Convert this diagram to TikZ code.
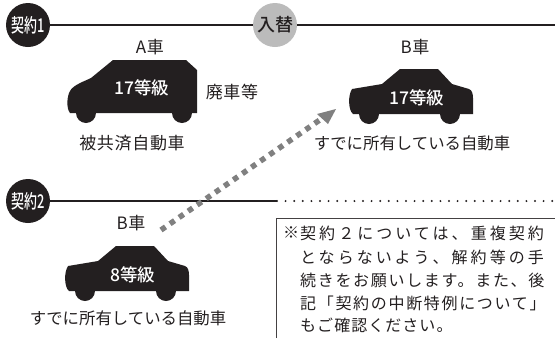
\documentclass[tikz,border=0pt]{standalone}
\usepackage{fontspec}
\setmainfont{Noto Sans CJK JP}
\newfontfamily\lblfont[LetterSpace=4]{Noto Sans CJK JP}
\newfontfamily\notefontA[LetterSpace=19]{Noto Sans CJK JP}
\newfontfamily\notefontB[LetterSpace=10.5]{Noto Sans CJK JP}
\newfontfamily\notefontC[LetterSpace=6.5]{Noto Sans CJK JP}
\newfontfamily\medfont{Noto Sans CJK JP Medium}
\usetikzlibrary{arrows.meta}
\definecolor{ink}{HTML}{231F20}
\definecolor{midgray}{HTML}{808080}
\definecolor{ringgray}{HTML}{BBBBBB}
\tikzset{
  x=1pt,y=-1pt,
  lbl/.style={inner sep=0pt,text=ink,font=\lblfont\fontsize{17}{18}\selectfont},
  kana/.style={inner sep=0pt,text=ink,font=\fontsize{16.4}{18}\selectfont},
  grade/.style={inner sep=0pt,text=white,font=\medfont\fontsize{17.5}{18}\selectfont},
  notetext/.style={inner sep=0pt,anchor=west,text=ink},
  nA/.style={notetext,font=\notefontA\fontsize{16}{18}\selectfont},
  nB/.style={notetext,font=\notefontB\fontsize{16}{18}\selectfont},
  nC/.style={notetext,font=\notefontC\fontsize{16}{18}\selectfont},
  badge/.style={circle,fill=ink,minimum size=44pt,inner sep=0pt},
  badgetext/.style={inner sep=0pt,text=white,xscale=.68,font=\medfont\fontsize{19}{20}\selectfont},
  timeline/.style={draw=ink,line width=1.9pt},
  pics/sedan/.style={code={
    \fill[ink] (5,45) .. controls (0,41) and (0,26) .. (4,20) -- (34,15) -- (52,0) -- (90,0) -- (104,15)
      -- (121,20) .. controls (124,21) and (125,25) .. (125,29) -- (125,45)
      -- (112,45) arc[start angle=0,end angle=180,radius=10] 
      -- (31,45) arc[start angle=0,end angle=180,radius=10] -- cycle;
  }}
}
\begin{document}
\begin{tikzpicture}
\useasboundingbox (0,0) rectangle (555,338);
% timelines
\node[badge] (k1) at (28,25) {};
\node[badgetext] at (k1) {契約1};
\node[circle,fill=ringgray,minimum size=44pt,inner sep=0pt] (sw) at (275,25) {};
\node[inner sep=0pt,text=ink,font=\medfont\fontsize{18}{18}\selectfont] at (sw) {入替};
\coordinate (e1) at (555,25);
\draw[timeline] (k1) -- (sw);
\draw[timeline] (sw) -- (e1);
\node[badge] (k2) at (28,201) {};
\node[badgetext] at (k2) {契約2};
\coordinate (m2) at (277,201);
\coordinate (e2) at (555,201);
\draw[timeline] (k2) -- (m2);
\draw[ink,line width=2.2pt,line cap=round,dash pattern=on 0pt off 8.6pt] (m2) -- (e2);
% car A
\fill[ink] (70,113) .. controls (66,108) and (67,96) .. (70,91) .. controls (73,85) and (85,81) .. (91,78)
  -- (113,60) -- (186,60) -- (197,70) -- (197,113) -- (192,113)
  arc[start angle=0,end angle=180,radius=10]
  -- (96,113) arc[start angle=0,end angle=180,radius=10] -- cycle;
\node[grade] (g1) at (142,88) {17等級};
\node[lbl] (ta) at (150,47) {A車};
\node[lbl] (tb) at (232,92) {廃車等};
\node[lbl] (tc) at (132,143) {被共済自動車};
% car B upper
\pic at (348,69) {sedan};
\node[grade] (g2) at (417,98) {17等級};
\node[lbl] (td) at (415,47) {B車};
\node[kana] (te) at (412,143) {すでに所有している自動車};
% car B lower
\pic at (64,246) {sedan};
\node[grade] (g3) at (133,275) {8等級};
\node[lbl] (tf) at (131,223) {B車};
\node[kana] (tg) at (128,318) {すでに所有している自動車};
% dotted arrow
\coordinate (as) at (161,230);
\coordinate (ae) at (324,117);
\coordinate (tip) at (336,109);
\draw[midgray,line width=5.5pt,dash pattern=on 5.5pt off 5.5pt] (as) -- (ae);
\fill[midgray] (tip) -- (317,114) -- (328,124) -- cycle;
% note
\coordinate (n1) at (276,338);
\coordinate (n2) at (276,218);
\coordinate (n3) at (555,218);
\draw[ink!85,line width=1pt] (n1) -- (n2) -- (n3);
\node[nA] (l0) at (283,233) {※};
\node[nA] (l1) at (300,233) {契約２については、重複契約};
\node[nA] (l2) at (300,257) {とならないよう、解約等の手};
\node[nB] (l3) at (300,280) {続きをお願いします。また、後};
\node[nB] (l4) at (300,303) {記「契約の中断特例について」};
\node[nC] (l5) at (300,325) {もご確認ください。};
\end{tikzpicture}
\end{document}
